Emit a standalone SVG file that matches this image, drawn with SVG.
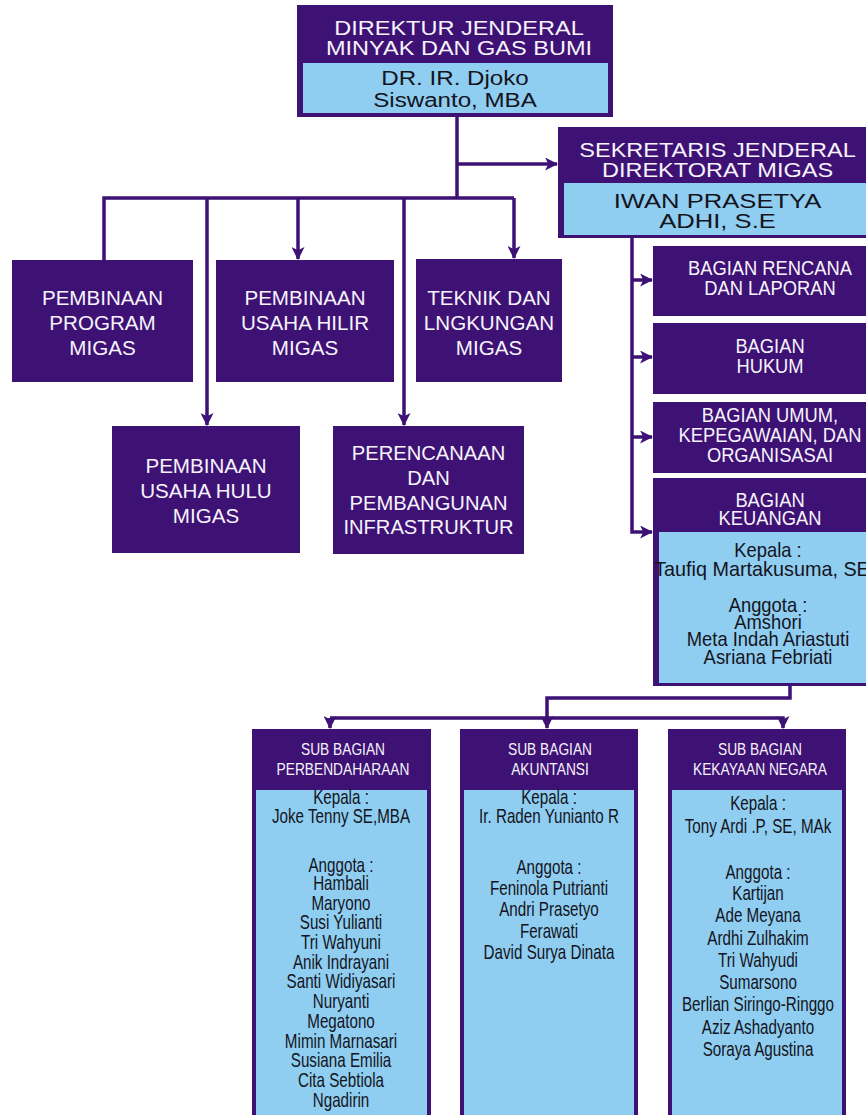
<svg xmlns="http://www.w3.org/2000/svg" width="866" height="1115" viewBox="0 0 866 1115">
<defs>
<style>
.dk{fill:#3d1274}
.lt{fill:#8fcdf1}
.w{fill:#f7f3fc;font-family:"Liberation Sans",Arial,sans-serif;text-anchor:middle}
.b{fill:#141420;font-family:"Liberation Sans",Arial,sans-serif;text-anchor:middle}
.c{fill:none;stroke:#3d1274;stroke-width:3.5}
.a{marker-end:url(#ah)}
</style>
<marker id="ah" viewBox="0 0 12 12" refX="11" refY="6" markerWidth="13" markerHeight="13" markerUnits="userSpaceOnUse" orient="auto"><path d="M0,0 L12,6 L0,12 L3,6 Z" fill="#3d1274"/></marker>
</defs>
<rect width="866" height="1115" fill="#ffffff"/>

<g id="connectors">
<path class="c" d="M457,117 V198"/>
<path class="c" d="M104,260 V198 H514"/>
<path class="c a" d="M207,198 V425"/>
<path class="c a" d="M298,198 V259"/>
<path class="c a" d="M404,198 V425"/>
<path class="c a" d="M514,198 V258"/>
<path class="c a" d="M457,164 H557"/>
<path class="c a" d="M632,238 V532 H652"/>
<path class="c a" d="M632,280 H652"/>
<path class="c a" d="M632,357 H652"/>
<path class="c a" d="M632,437 H652"/>
<path class="c a" d="M790,686 V698 H547 V728"/>
<path class="c a" d="M330,718 H783 V728"/>
<path class="c a" d="M330,718 V728"/>
</g>

<g id="dirjen">
<rect class="dk" x="297" y="5" width="316" height="112"/>
<rect class="lt" x="303" y="63" width="305" height="50"/>
<g transform="translate(459 0) scale(1.12 1)"><text class="w" font-size="21"><tspan x="0" y="35">DIREKTUR JENDERAL</tspan><tspan x="0" y="55">MINYAK DAN GAS BUMI</tspan></text></g>
<g transform="translate(455 0) scale(1.15 1)"><text class="b" font-size="21"><tspan x="0" y="85">DR. IR. Djoko</tspan><tspan x="0" y="107">Siswanto, MBA</tspan></text></g>
</g>

<g id="sekjen">
<rect class="dk" x="558" y="127" width="322" height="111"/>
<rect class="lt" x="564" y="183" width="316" height="52"/>
<g transform="translate(717.5 0) scale(1.12 1)"><text class="w" font-size="21"><tspan x="0" y="157">SEKRETARIS JENDERAL</tspan><tspan x="0" y="177">DIREKTORAT MIGAS</tspan></text></g>
<g transform="translate(717.5 0) scale(1.22 1)"><text class="b" font-size="21"><tspan x="0" y="208">IWAN PRASETYA</tspan><tspan x="0" y="228">ADHI, S.E</tspan></text></g>
</g>

<g id="program">
<rect class="dk" x="12" y="260" width="181" height="122"/>
<g transform="translate(102.5 0) scale(0.98 1)"><text class="w" font-size="21"><tspan x="0" y="305">PEMBINAAN</tspan><tspan x="0" y="330">PROGRAM</tspan><tspan x="0" y="355">MIGAS</tspan></text></g>
</g>

<g id="hilir">
<rect class="dk" x="216" y="260" width="178" height="122"/>
<g transform="translate(305 0) scale(0.98 1)"><text class="w" font-size="21"><tspan x="0" y="305">PEMBINAAN</tspan><tspan x="0" y="330">USAHA HILIR</tspan><tspan x="0" y="355">MIGAS</tspan></text></g>
</g>

<g id="teknik">
<rect class="dk" x="416" y="259" width="146" height="123"/>
<g transform="translate(489 0) scale(0.98 1)"><text class="w" font-size="21"><tspan x="0" y="305">TEKNIK DAN</tspan><tspan x="0" y="330">LNGKUNGAN</tspan><tspan x="0" y="355">MIGAS</tspan></text></g>
</g>

<g id="hulu">
<rect class="dk" x="112" y="426" width="188" height="127"/>
<g transform="translate(206 0) scale(0.98 1)"><text class="w" font-size="21"><tspan x="0" y="473">PEMBINAAN</tspan><tspan x="0" y="498">USAHA HULU</tspan><tspan x="0" y="523">MIGAS</tspan></text></g>
</g>

<g id="perencanaan">
<rect class="dk" x="333" y="426" width="191" height="128"/>
<g transform="translate(428.5 0) scale(0.96 1)"><text class="w" font-size="21"><tspan x="0" y="460">PERENCANAAN</tspan><tspan x="0" y="485">DAN</tspan><tspan x="0" y="510">PEMBANGUNAN</tspan><tspan x="0" y="534">INFRASTRUKTUR</tspan></text></g>
</g>

<g id="rencana">
<rect class="dk" x="653" y="246" width="240" height="70"/>
<g transform="translate(770 0) scale(0.94 1)"><text class="w" font-size="19.5"><tspan x="0" y="275">BAGIAN RENCANA</tspan><tspan x="0" y="295">DAN LAPORAN</tspan></text></g>
</g>

<g id="hukum">
<rect class="dk" x="653" y="323" width="240" height="71"/>
<g transform="translate(770 0) scale(0.94 1)"><text class="w" font-size="19.5"><tspan x="0" y="353">BAGIAN</tspan><tspan x="0" y="373">HUKUM</tspan></text></g>
</g>

<g id="umum">
<rect class="dk" x="653" y="402" width="240" height="71"/>
<g transform="translate(770 0) scale(0.94 1)"><text class="w" font-size="19.5"><tspan x="0" y="422">BAGIAN UMUM,</tspan><tspan x="0" y="442">KEPEGAWAIAN, DAN</tspan><tspan x="0" y="462">ORGANISASAI</tspan></text></g>
</g>

<g id="keuangan">
<rect class="dk" x="653" y="478" width="240" height="208"/>
<rect class="lt" x="659" y="532" width="234" height="151"/>
<g transform="translate(770 0) scale(0.94 1)"><text class="w" font-size="19.5"><tspan x="0" y="507">BAGIAN</tspan><tspan x="0" y="525">KEUANGAN</tspan></text></g>
<g transform="translate(768 0) scale(0.92 1)"><text class="b" font-size="20"><tspan x="0" y="557">Kepala :</tspan><tspan x="0" y="612">Anggota :</tspan><tspan x="0" y="629">Amshori</tspan><tspan x="0" y="646">Meta Indah Ariastuti</tspan><tspan x="0" y="664">Asriana Febriati</tspan></text></g>
<g transform="translate(762 0) scale(0.99 1)"><text class="b" font-size="20" x="0" y="576">Taufiq Martakusuma, SE</text></g>
</g>

<g id="perbendaharaan">
<rect class="dk" x="252" y="729" width="179" height="400"/>
<rect class="lt" x="256" y="790" width="171" height="340"/>
<g transform="translate(343 0) scale(0.86 1)"><text class="w" font-size="16"><tspan x="0" y="755">SUB BAGIAN</tspan><tspan x="0" y="775">PERBENDAHARAAN</tspan></text></g>
<g transform="translate(341 0) scale(0.76 1)"><text class="b" font-size="20"><tspan x="0" y="804">Kepala :</tspan><tspan x="0" y="823">Joke Tenny SE,MBA</tspan><tspan x="0" y="872">Anggota :</tspan><tspan x="0" y="890">Hambali</tspan><tspan x="0" y="909.7">Maryono</tspan><tspan x="0" y="929.4">Susi Yulianti</tspan><tspan x="0" y="949.1">Tri Wahyuni</tspan><tspan x="0" y="968.8">Anik Indrayani</tspan><tspan x="0" y="988.5">Santi Widiyasari</tspan><tspan x="0" y="1008.2">Nuryanti</tspan><tspan x="0" y="1027.9">Megatono</tspan><tspan x="0" y="1047.6">Mimin Marnasari</tspan><tspan x="0" y="1067.3">Susiana Emilia</tspan><tspan x="0" y="1087">Cita Sebtiola</tspan><tspan x="0" y="1106.7">Ngadirin</tspan></text></g>
</g>

<g id="akuntansi">
<rect class="dk" x="460" y="729" width="178" height="400"/>
<rect class="lt" x="464" y="790" width="170" height="340"/>
<g transform="translate(550 0) scale(0.86 1)"><text class="w" font-size="16"><tspan x="0" y="755">SUB BAGIAN</tspan><tspan x="0" y="775">AKUNTANSI</tspan></text></g>
<g transform="translate(549 0) scale(0.76 1)"><text class="b" font-size="20"><tspan x="0" y="804">Kepala :</tspan><tspan x="0" y="823">Ir. Raden Yunianto R</tspan><tspan x="0" y="874">Anggota :</tspan><tspan x="0" y="895">Feninola Putrianti</tspan><tspan x="0" y="916">Andri Prasetyo</tspan><tspan x="0" y="938">Ferawati</tspan><tspan x="0" y="959">David Surya Dinata</tspan></text></g>
</g>

<g id="kekayaan">
<rect class="dk" x="668" y="729" width="178" height="400"/>
<rect class="lt" x="672" y="790" width="170" height="340"/>
<g transform="translate(760 0) scale(0.86 1)"><text class="w" font-size="16"><tspan x="0" y="755">SUB BAGIAN</tspan><tspan x="0" y="775">KEKAYAAN NEGARA</tspan></text></g>
<g transform="translate(758 0) scale(0.78 1)"><text class="b" font-size="19.5"><tspan x="0" y="810">Kepala :</tspan><tspan x="0" y="833">Tony Ardi .P, SE, MAk</tspan><tspan x="0" y="879">Anggota :</tspan><tspan x="0" y="900">Kartijan</tspan><tspan x="0" y="922.3">Ade Meyana</tspan><tspan x="0" y="944.6">Ardhi Zulhakim</tspan><tspan x="0" y="966.9">Tri Wahyudi</tspan><tspan x="0" y="989.2">Sumarsono</tspan><tspan x="0" y="1011.5">Berlian Siringo-Ringgo</tspan><tspan x="0" y="1033.8">Aziz Ashadyanto</tspan><tspan x="0" y="1056">Soraya Agustina</tspan></text></g>
</g>
</svg>
